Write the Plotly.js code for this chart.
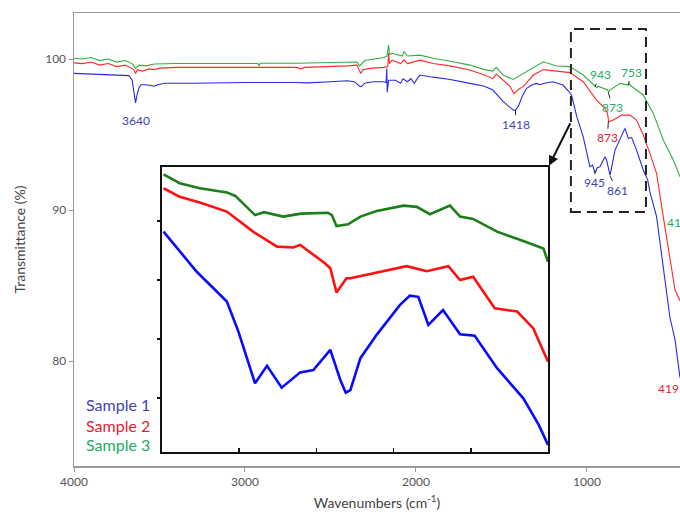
<!DOCTYPE html>
<html>
<head>
<meta charset="utf-8">
<script src="https://cdn.plot.ly/plotly-3.0.1.min.js"></script>
<style>html,body{margin:0;padding:0;background:#fff}#chart{width:680px;height:516px}</style>
</head>
<body>
<div id="chart"></div>
<script>
// ---- Main spectrum data (wavenumber cm-1, transmittance %) ----
const mainWnS1 = [4000,3900,3800,3700,3678,3660,3648,3640,3632,3620,3608,3580,3550,3532,3510,3470,3300,3000,2700,2637,2500,2403,2360,2330,2320,2300,2250,2187,2175,2171,2168,2160,2120,2090,2076,2050,2030,2010,1990,1977,1900,1800,1684,1600,1550,1491,1450,1427,1418,1400,1380,1353,1320,1294,1275,1250,1199,1140,1110,1090,1060,1022,983,967,953,940,924,895,885,865,836,778,758,739,710,671,645,632,593,554,515,485,466,456];
const mainTS1  = [99.05,99.0,98.95,98.95,98.9,98.6,97.5,97.1,97.6,98.1,98.3,98.3,98.25,98.2,98.3,98.4,98.4,98.45,98.45,98.42,98.5,98.56,98.5,98.2,98.17,98.4,98.5,98.5,98.45,99.38,97.8,98.6,98.6,98.4,98.7,98.5,98.7,98.4,98.75,98.94,98.8,98.65,98.39,98.2,97.95,97.2,96.8,96.6,96.62,96.9,97.5,98.06,98.3,98.39,98.3,98.4,98.5,98.28,97.9,97.6,96.2,94.85,92.87,92.98,92.45,92.8,92.87,93.53,93.3,92.3,93.97,95.41,94.75,94.8,93.97,92.65,92.0,91.2,89.56,86.25,82.9,81.4,79.6,78.9];

const mainWnS2 = [4000,3950,3900,3850,3800,3750,3700,3670,3650,3640,3630,3600,3560,3530,3500,3400,3000,2700,2674,2650,2400,2345,2330,2323,2310,2270,2187,2165,2160,2155,2140,2090,2070,2050,1977,1900,1800,1684,1600,1550,1530,1491,1450,1427,1400,1373,1314,1255,1158,1100,1022,944,895,880,873,846,798,749,710,671,632,593,554,515,485,456];
const mainTS2  = [99.75,99.7,99.8,99.6,99.7,99.5,99.6,99.4,99.3,99.05,99.3,99.2,99.35,99.3,99.4,99.45,99.45,99.45,99.35,99.45,99.55,99.6,99.2,99.05,99.3,99.38,99.45,99.5,100.38,99.7,99.93,99.7,99.95,99.7,99.93,99.7,99.55,99.27,98.95,98.7,99.0,98.6,98.2,97.7,98.0,98.17,98.94,99.3,99.2,99.1,98.5,97.28,96.74,96.4,95.85,95.96,96.29,96.29,95.96,94.97,93.75,92.43,89.56,86.9,84.7,84.0];

const mainWnS3 = [4000,3950,3900,3850,3800,3750,3700,3660,3640,3620,3580,3530,3400,3000,2925,2918,2910,2700,2400,2345,2330,2300,2187,2170,2160,2155,2140,2080,2070,2050,1977,1900,1800,1684,1600,1550,1530,1491,1432,1353,1300,1255,1177,1100,1022,953,943,935,880,873,866,807,758,753,740,671,612,554,495,456];
const mainTS3  = [100.05,100.0,100.1,99.9,100.0,99.8,99.9,99.7,99.38,99.6,99.55,99.67,99.71,99.72,99.71,99.55,99.72,99.72,99.78,99.8,99.54,99.9,100.1,100.2,100.93,100.3,100.38,100.2,100.5,100.2,100.26,100.05,99.85,99.6,99.3,99.2,99.45,98.94,98.65,99.16,99.5,99.82,99.54,99.5,98.94,98.17,98.1,98.2,97.95,97.8,97.95,98.39,98.28,98.35,98.2,97.62,96.4,94.64,93.31,92.2];

// ---- Inset data ----
const insetWnS1 = [1098,1055,1016,1001,979.5,964,945,921,904,882,869,866,862,856,843,822,792,779,768,755,736,714,695,666,632,612,600];
const insetTS1  = [95.64,94.28,93.27,92.25,90.5,91.09,90.35,90.87,90.95,91.63,90.61,90.4,90.18,90.27,91.35,92.14,93.15,93.47,93.43,92.48,92.98,92.16,92.11,91.01,89.99,89.09,88.41];
const insetWnS2 = [1098,1077,1051,1016,982,951,930,921,889,882,874,861,856,822,783,757,729,714,697,669,640,619,600];
const insetTS2  = [97.11,96.82,96.63,96.32,95.64,95.13,95.1,95.19,94.57,94.4,93.58,94.06,94.06,94.26,94.47,94.3,94.47,94.0,94.11,93.04,92.93,92.36,91.23];
const insetWnS3 = [1098,1077,1051,1016,1005,979.5,968,943,920,885,880,874,859,843,822,787,770,753,727,714,697,666,632,606,600];
const insetTS3  = [97.58,97.28,97.11,96.97,96.85,96.2,96.3,96.15,96.25,96.28,96.2,95.83,95.89,96.15,96.34,96.52,96.48,96.23,96.52,96.15,96.07,95.64,95.32,95.07,94.62];

const seriesNames = ['Sample 1','Sample 2','Sample 3'];
const mainColors = ['#2a2ae6','#ff2a2a','#30b040'];
const insetColors = ['#0a0aff','#ff1010','#1a7f1a'];
const labelColors = ['#3f3fb5','#e8202e','#25ad62'];

const xTicks = [4000,3000,2000,1000];
const yTicks = [80,90,100];
const insetXTicks = [1000,900,800,700];
const insetYTicks = [90,92,94,96];

const FONT = 'Lato, "Open Sans", sans-serif';

const mainX = [mainWnS1, mainWnS2, mainWnS3];
const mainY = [mainTS1, mainTS2, mainTS3];
const insX = [insetWnS1, insetWnS2, insetWnS3];
const insY = [insetTS1, insetTS2, insetTS3];

const traces = [];
for (let i = 0; i < 3; i++) {
  traces.push({x: mainX[i], y: mainY[i], type: 'scatter', mode: 'lines', name: seriesNames[i],
    line: {color: mainColors[i], width: 1.1}, xaxis: 'x', yaxis: 'y', showlegend: false, hoverinfo: 'skip'});
}
for (let i = 0; i < 3; i++) {
  traces.push({x: insX[i], y: insY[i], type: 'scatter', mode: 'lines', name: seriesNames[i],
    line: {color: insetColors[i], width: 2.6}, xaxis: 'x2', yaxis: 'y2', showlegend: false, hoverinfo: 'skip'});
}

function peak(x, y, text, color, ax, ay) {
  return {x: x, y: y, xref: 'x', yref: 'y', text: text, showarrow: true,
    ax: ax, ay: ay, arrowhead: 0, arrowwidth: 1, arrowcolor: '#222', standoff: 0, startstandoff: 0,
    font: {family: FONT, size: 12, color: color}};
}

const annotations = [
  {x: 3640, y: 97.1, xref: 'x', yref: 'y', text: '3640', showarrow: false, yshift: -18,
    font: {family: FONT, size: 12, color: labelColors[0]}},
  peak(1418, 96.62, '1418', labelColors[0], 0, 14),
  peak(953, 98.17, '943', labelColors[2], 5, -12),
  peak(758, 98.28, '753', labelColors[2], 3, -13),
  peak(875, 97.8, '873', labelColors[2], 4, 15),
  peak(875, 95.85, '873', labelColors[1], -1, 16),
  peak(953, 92.6, '945', labelColors[0], -1, 12),
  peak(865, 92.25, '861', labelColors[0], 7, 14),
  {x: 526, y: 78.2, xref: 'x', yref: 'y', text: '419', showarrow: false,
    font: {family: FONT, size: 12, color: labelColors[1]}},
  {x: 470, y: 89.2, xref: 'x', yref: 'y', text: '419', showarrow: false,
    font: {family: FONT, size: 12, color: labelColors[2]}},
  // arrow from dashed box to inset
  {x: 1222, y: 92.93, xref: 'x', yref: 'y', text: '', showarrow: true, ax: 22, ay: -44,
    arrowhead: 2, arrowsize: 1, arrowwidth: 2, arrowcolor: '#111', standoff: 0},
];
for (let i = 0; i < 3; i++) {
  annotations.push({x: 0.016, y: [0.1347, 0.0905, 0.0464][i], xref: 'paper', yref: 'paper',
    xanchor: 'left', yanchor: 'middle', text: seriesNames[i], showarrow: false,
    font: {family: FONT, size: 16, color: labelColors[i]}});
}

const layout = {
  width: 680, height: 516,
  margin: {l: 74, r: 0, t: 13, b: 50},
  paper_bgcolor: '#fff', plot_bgcolor: '#fff',
  font: {family: FONT, size: 12, color: '#555'},
  xaxis: {range: [4000, 456], tickvals: xTicks, ticks: 'outside', ticklen: 4, tickcolor: '#999',
    showline: true, linecolor: '#999', linewidth: 1.5, mirror: true, showgrid: false, zeroline: false,
    tickfont: {family: FONT, size: 12, color: '#555'},
    title: {text: 'Wavenumbers (cm<sup>-1</sup>)', font: {family: FONT, size: 14, color: '#444'}, standoff: 10}},
  yaxis: {range: [73.05, 103.05], tickvals: yTicks, ticks: 'outside', ticklen: 4, tickcolor: '#999',
    showline: true, linecolor: '#999', linewidth: 1.5, showgrid: false, zeroline: false,
    tickfont: {family: FONT, size: 12, color: '#555'},
    title: {text: 'Transmittance (%)', font: {family: FONT, size: 14, color: '#444'}, standoff: 16}},
  xaxis2: {domain: [0.1452, 0.7822], anchor: 'y2', range: [1100, 600], tickvals: insetXTicks,
    showticklabels: false, ticks: 'inside', ticklen: 4, tickcolor: '#111', tickwidth: 1.5,
    showline: true, linecolor: '#111', linewidth: 2, mirror: true, showgrid: false, zeroline: false},
  yaxis2: {domain: [0.0309, 0.660], anchor: 'x2', range: [88.17, 97.83], tickvals: insetYTicks,
    showticklabels: false, ticks: 'outside', ticklen: 3, tickcolor: '#111', tickwidth: 1.5,
    showline: true, linecolor: '#111', linewidth: 2, mirror: true, showgrid: false, zeroline: false},
  shapes: [
    {type: 'rect', xref: 'x', yref: 'y', x0: 1094, x1: 655, y0: 89.87, y1: 101.99,
      line: {color: '#222', width: 2, dash: '10px,6px'}, fillcolor: 'rgba(0,0,0,0)'}
  ],
  annotations: annotations,
  showlegend: false
};

Plotly.newPlot('chart', traces, layout, {staticPlot: true, displayModeBar: false});
</script>
</body>
</html>
